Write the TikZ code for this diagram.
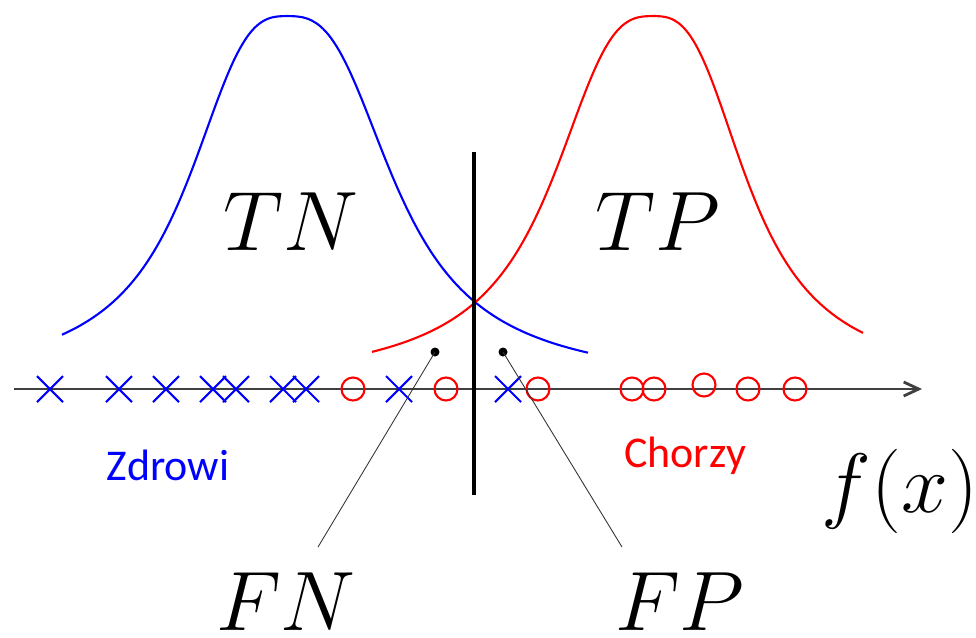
\RequirePackage{fix-cm}
\documentclass[tikz,border=0pt]{standalone}
\usepackage{fontspec}
\usepackage{amsmath}
\usepackage{tikz}
\usetikzlibrary{arrows.meta,positioning,calc}
\newfontfamily\calfont{Carlito}
\newcommand{\bigmath}{\fontsize{48}{52}\selectfont}

\begin{document}
\begin{tikzpicture}[x=0.02cm,y=-0.02cm,
    declare function={bump(\d,\g)=0.82/(1+(abs(\d)/\g)^3)+0.18/(1+(\d/(2*\g))^2);},
    healthy/.style={blue,line width=1.2pt},
    sick/.style={red,line width=1.2pt},
    bigtxt/.style={anchor=base,inner sep=0pt,font=\bigmath},
    grouptxt/.style={anchor=base,inner sep=0pt,font=\calfont\fontsize{25}{28}\selectfont},
    leader/.style={black!80,line width=0.5pt}]
  \useasboundingbox (0,0) rectangle (976,637);
  % feature axis
  \draw[black!75,line width=0.7pt,-{Straight Barb[length=0.3cm,width=0.28cm,line width=1.6pt]}] (14,389) -- (922,389);
  % class densities
  \draw[healthy] plot[domain=62:287,samples=90] (\x,{389-373*bump(\x-287,100)})
    -- plot[domain=287:588,samples=110] (\x,{389-373*bump(\x-287,108)});
  \draw[sick] plot[domain=372:653,samples=110] (\x,{389-373*bump(\x-653,102)})
    -- plot[domain=653:863,samples=90] (\x,{389-373*bump(\x-653,95)});
  % samples
  \foreach \x in {50,119,166,213,236,283,306,399,508}
    \draw[healthy] (\x-13,376) -- (\x+13,402) (\x-13,402) -- (\x+13,376);
  \foreach \x/\y in {353/389,446/389,538/389,632/389,654/389,704/385,748/389,795/389}
    \draw[sick] (\x,\y) circle (11.5);
  % threshold
  \draw[black,line width=2.8pt] (474,152) -- (474,495);
  % labels
  \node[bigtxt] (tn) at (291,250) {$TN$};
  \node[bigtxt] (tp) at (658,250) {$TP$};
  \node[bigtxt] (fn) at (286,630) {$FN$};
  \node[bigtxt] (fp) at (680,630) {$FP$};
  \node[bigtxt] (fx) at (900,512) {$f(x)$};
  \node[grouptxt,text=blue] (zdrowi) at (168,480) {Zdrowi};
  \node[grouptxt,text=red] (chorzy) at (685,467) {Chorzy};
  % misclassified markers
  \fill (435,352) circle (4.5) coordinate (fndot);
  \fill (503,352) circle (4.5) coordinate (fpdot);
  \coordinate (fnend) at (318,547);
  \coordinate (fpend) at (622,547);
  \draw[leader] (fndot) -- (fnend);
  \draw[leader] (fpdot) -- (fpend);
\end{tikzpicture}
\end{document}
